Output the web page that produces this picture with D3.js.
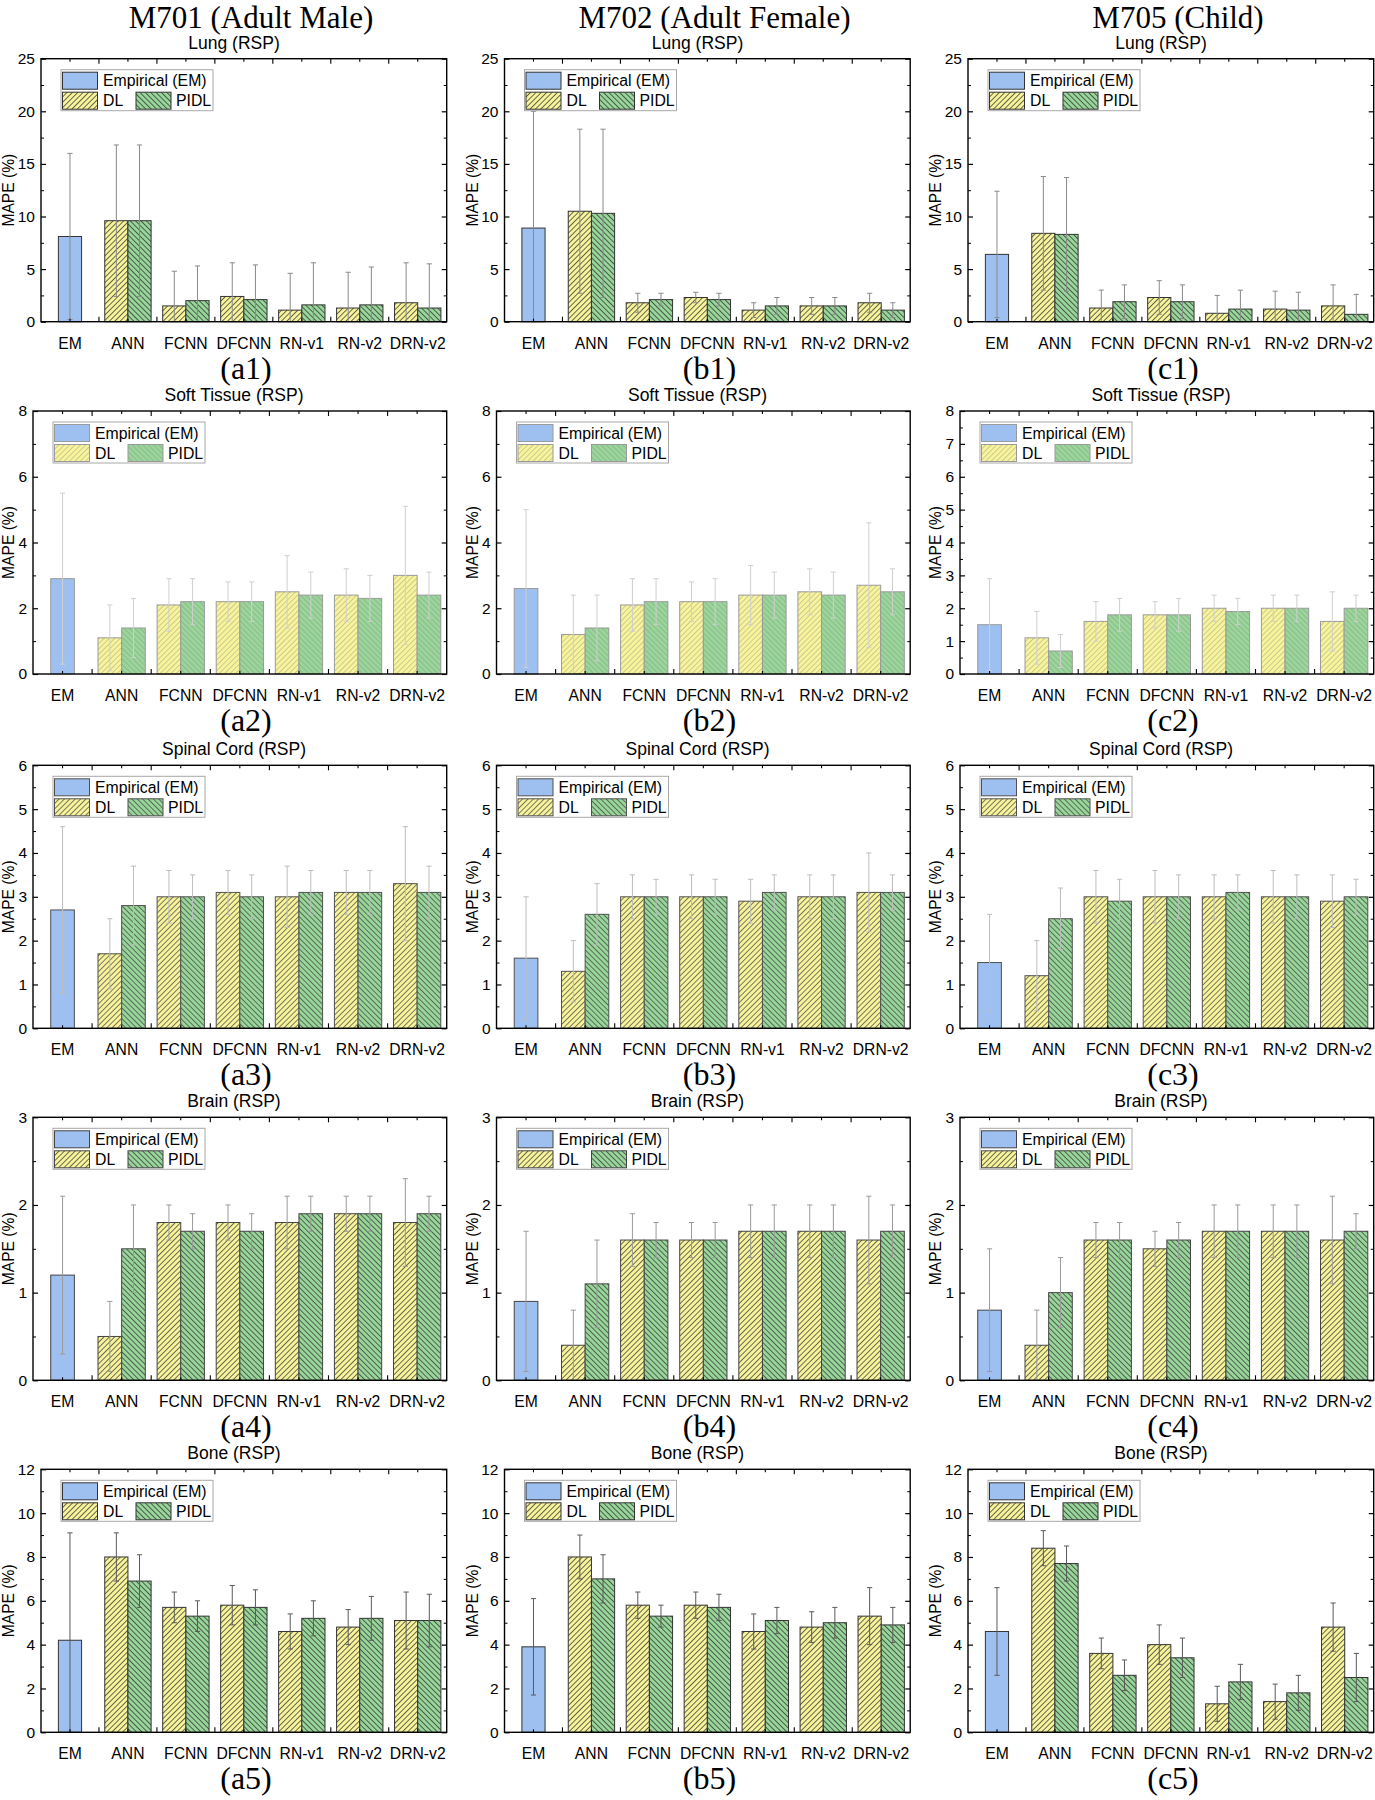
<!DOCTYPE html>
<html><head><meta charset="utf-8">
<script src="https://cdn.jsdelivr.net/npm/d3@7"></script>
<style>body{margin:0;background:#fff} svg{display:block}</style>
</head><body>
<svg id="chart" width="1375" height="1800"></svg>
<script>
// ---------------- DATA ----------------
const categories = ["EM", "ANN", "FCNN", "DFCNN", "RN-v1", "RN-v2", "DRN-v2"];
const phantoms = ["M701 (Adult Male)", "M702 (Adult Female)", "M705 (Child)"];
const tissues = ["Lung (RSP)", "Soft Tissue (RSP)", "Spinal Cord (RSP)", "Brain (RSP)", "Bone (RSP)"];
const seriesNames = ["Empirical (EM)", "DL", "PIDL"];
const yAxisTitle = "MAPE (%)";
const colLetters = ["a", "b", "c"];

// y tick labels per row (and per column where they differ)
const lungTicks = [0, 5, 10, 15, 20, 25];
const softTicksAB = [0, 2, 4, 6, 8];
const softTicksC = [0, 1, 2, 3, 4, 5, 6, 7, 8];
const spinalTicks = [0, 1, 2, 3, 4, 5, 6];
const brainTicks = [0, 1, 2, 3];
const boneTicks = [0, 2, 4, 6, 8, 10, 12];

// Lung  (rows: M701, M702, M705; DL/PIDL columns: ANN..DRN-v2)
const lungEM = [8.1, 8.9, 6.4];
const lungEMsd = [7.9, 11.1, 6.0];
const lungDL = [[9.6, 1.5, 2.4, 1.1, 1.3, 1.8], [10.5, 1.8, 2.3, 1.1, 1.5, 1.8], [8.4, 1.3, 2.3, 0.8, 1.2, 1.5]];
const lungDLsd = [[7.2, 3.3, 3.2, 3.5, 3.4, 3.8], [7.8, 0.9, 0.5, 0.7, 0.8, 0.9], [5.4, 1.7, 1.6, 1.7, 1.7, 2.0]];
const lungPIDL = [[9.6, 2.0, 2.1, 1.6, 1.6, 1.3], [10.3, 2.1, 2.1, 1.5, 1.5, 1.1], [8.3, 1.9, 1.9, 1.2, 1.1, 0.7]];
const lungPIDLsd = [[7.2, 3.3, 3.3, 4.0, 3.6, 4.2], [8.0, 0.6, 0.6, 0.8, 0.8, 0.7], [5.4, 1.6, 1.6, 1.8, 1.7, 1.9]];

// Soft tissue
const softEM = [2.9, 2.6, 1.5];
const softEMsd = [2.6, 2.4, 1.4];
const softDL = [[1.1, 2.1, 2.2, 2.5, 2.4, 3.0], [1.2, 2.1, 2.2, 2.4, 2.5, 2.7], [1.1, 1.6, 1.8, 2.0, 2.0, 1.6]];
const softDLsd = [[1.0, 0.8, 0.6, 1.1, 0.8, 2.1], [1.2, 0.8, 0.6, 0.9, 0.7, 1.9], [0.8, 0.6, 0.4, 0.4, 0.4, 0.9]];
const softPIDL = [[1.4, 2.2, 2.2, 2.4, 2.3, 2.4], [1.4, 2.2, 2.2, 2.4, 2.4, 2.5], [0.7, 1.8, 1.8, 1.9, 2.0, 2.0]];
const softPIDLsd = [[0.9, 0.7, 0.6, 0.7, 0.7, 0.7], [1.0, 0.7, 0.7, 0.7, 0.7, 0.7], [0.5, 0.5, 0.5, 0.4, 0.4, 0.4]];

// Spinal cord
const spinalEM = [2.7, 1.6, 1.5];
const spinalEMsd = [1.9, 1.4, 1.1];
const spinalDL = [[1.7, 3.0, 3.1, 3.0, 3.1, 3.3], [1.3, 3.0, 3.0, 2.9, 3.0, 3.1], [1.2, 3.0, 3.0, 3.0, 3.0, 2.9]];
const spinalDLsd = [[0.8, 0.6, 0.5, 0.7, 0.5, 1.3], [0.7, 0.5, 0.5, 0.5, 0.5, 0.9], [0.8, 0.6, 0.6, 0.5, 0.6, 0.6]];
const spinalPIDL = [[2.8, 3.0, 3.0, 3.1, 3.1, 3.1], [2.6, 3.0, 3.0, 3.1, 3.0, 3.1], [2.5, 2.9, 3.0, 3.1, 3.0, 3.0]];
const spinalPIDLsd = [[0.9, 0.5, 0.5, 0.5, 0.5, 0.6], [0.7, 0.4, 0.4, 0.4, 0.5, 0.4], [0.7, 0.5, 0.5, 0.4, 0.5, 0.4]];

// Brain
const brainEM = [1.2, 0.9, 0.8];
const brainEMsd = [0.9, 0.8, 0.7];
const brainDL = [[0.5, 1.8, 1.8, 1.8, 1.9, 1.8], [0.4, 1.6, 1.6, 1.7, 1.7, 1.6], [0.4, 1.6, 1.5, 1.7, 1.7, 1.6]];
const brainDLsd = [[0.4, 0.2, 0.2, 0.3, 0.2, 0.5], [0.4, 0.3, 0.2, 0.3, 0.3, 0.5], [0.4, 0.2, 0.2, 0.3, 0.3, 0.5]];
const brainPIDL = [[1.5, 1.7, 1.7, 1.9, 1.9, 1.9], [1.1, 1.6, 1.6, 1.7, 1.7, 1.7], [1.0, 1.6, 1.6, 1.7, 1.7, 1.7]];
const brainPIDLsd = [[0.5, 0.2, 0.2, 0.2, 0.2, 0.2], [0.5, 0.2, 0.2, 0.3, 0.3, 0.3], [0.4, 0.2, 0.2, 0.3, 0.3, 0.2]];

// Bone
const boneEM = [4.2, 3.9, 4.6];
const boneEMsd = [4.9, 2.2, 2.0];
const boneDL = [[8.0, 5.7, 5.8, 4.6, 4.8, 5.1], [8.0, 5.8, 5.8, 4.6, 4.8, 5.3], [8.4, 3.6, 4.0, 1.3, 1.4, 4.8]];
const boneDLsd = [[1.1, 0.7, 0.9, 0.8, 0.8, 1.3], [1.0, 0.6, 0.6, 0.8, 0.7, 1.3], [0.8, 0.7, 0.9, 0.8, 0.8, 1.1]];
const bonePIDL = [[6.9, 5.3, 5.7, 5.2, 5.2, 5.1], [7.0, 5.3, 5.7, 5.1, 5.0, 4.9], [7.7, 2.6, 3.4, 2.3, 1.8, 2.5]];
const bonePIDLsd = [[1.2, 0.7, 0.8, 0.8, 1.0, 1.2], [1.1, 0.5, 0.6, 0.6, 0.7, 0.8], [0.8, 0.7, 0.9, 0.8, 0.8, 1.1]];

// ---------------- ASSEMBLY ----------------
const rowsData = [
  {em: lungEM, emsd: lungEMsd, dl: lungDL, dlsd: lungDLsd, pidl: lungPIDL, pidlsd: lungPIDLsd, ticks: [lungTicks, lungTicks, lungTicks], minor: [2.5, 2.5, 2.5]},
  {em: softEM, emsd: softEMsd, dl: softDL, dlsd: softDLsd, pidl: softPIDL, pidlsd: softPIDLsd, ticks: [softTicksAB, softTicksAB, softTicksC], minor: [1, 1, 0.5]},
  {em: spinalEM, emsd: spinalEMsd, dl: spinalDL, dlsd: spinalDLsd, pidl: spinalPIDL, pidlsd: spinalPIDLsd, ticks: [spinalTicks, spinalTicks, spinalTicks], minor: [0.5, 0.5, 0.5]},
  {em: brainEM, emsd: brainEMsd, dl: brainDL, dlsd: brainDLsd, pidl: brainPIDL, pidlsd: brainPIDLsd, ticks: [brainTicks, brainTicks, brainTicks], minor: [0.5, 0.5, 0.5]},
  {em: boneEM, emsd: boneEMsd, dl: boneDL, dlsd: boneDLsd, pidl: bonePIDL, pidlsd: bonePIDLsd, ticks: [boneTicks, boneTicks, boneTicks], minor: [1, 1, 1]}
];

// ---------------- LAYOUT / STYLE ----------------
const SANS = "'Liberation Sans', Arial, sans-serif";
const SERIF = "'Liberation Serif', 'Times New Roman', serif";
const colOffset = [0, 463.5, 927];
const rowTop = [58.7, 411, 765.3, 1117.3, 1469.3];
const plotH = 263;
const fillEM = "#9ec0f0", fillDL = "#f8f49c", fillPIDL = "#98d69a";
const rowStyle = [
  {stroke: "#333", hatch: "#2a2a2a", hop: 0.8, err: "#8a8a8a"},
  {stroke: "#9a9a9a", hatch: "#8a8a7a", hop: 0.45, err: "#cfcfcf"},
  {stroke: "#505050", hatch: "#3a3a3a", hop: 0.75, err: "#bdbdbd"},
  {stroke: "#444", hatch: "#333", hop: 0.8, err: "#9a9a9a"},
  {stroke: "#333", hatch: "#2a2a2a", hop: 0.8, err: "#5a5a5a"}
];

const svg = d3.select("#chart");
const defs = svg.append("defs");
rowStyle.forEach((st, r) => {
  [["dl", fillDL, 45], ["pidl", fillPIDL, -45]].forEach(([k, fill, ang]) => {
    const p = defs.append("pattern").attr("id", `${k}${r}`)
      .attr("patternUnits", "userSpaceOnUse").attr("width", 3.8).attr("height", 3.8)
      .attr("patternTransform", `rotate(${ang})`);
    p.append("rect").attr("width", 3.8).attr("height", 3.8).attr("fill", fill);
    p.append("line").attr("x1", 0.5).attr("y1", 0).attr("x2", 0.5).attr("y2", 3.8)
      .attr("stroke", st.hatch).attr("stroke-opacity", st.hop).attr("stroke-width", 0.9);
  });
});

// column headers
phantoms.forEach((p, c) => {
  svg.append("text").attr("x", colOffset[c] + 251).attr("y", 28)
    .attr("text-anchor", "middle").attr("font-family", SERIF).attr("font-size", 31)
    .text(p);
});

rowsData.forEach((rd, r) => {
  const st = rowStyle[r];
  for (let c = 0; c < 3; c++) {
    const O = colOffset[c];
    const ticks = rd.ticks[c];
    const yMax = ticks[ticks.length - 1];
    const twoDigit = yMax >= 10;
    const T = rowTop[r], B = T + plotH;
    const L = O + (twoDigit ? 41 : 33), R = O + 446.7;
    const g = svg.append("g");

    const x = d3.scaleBand().domain(categories).range([L, R]).padding(0);
    const y = d3.scaleLinear().domain([0, yMax]).range([B, T]);
    const bw = x.bandwidth() * 0.4;
    const cx = k => x(k) + x.bandwidth() / 2;

    // bars
    const bars = [];
    bars.push({cat: "EM", v: rd.em[c], sd: rd.emsd[c], x0: cx("EM") - bw / 2, fill: fillEM});
    categories.slice(1).forEach((k, i) => {
      bars.push({cat: k, v: rd.dl[c][i], sd: rd.dlsd[c][i], x0: cx(k) - bw, fill: `url(#dl${r})`});
      bars.push({cat: k, v: rd.pidl[c][i], sd: rd.pidlsd[c][i], x0: cx(k), fill: `url(#pidl${r})`});
    });
    g.selectAll("rect.bar").data(bars).join("rect").attr("class", "bar")
      .attr("x", d => d.x0).attr("width", bw)
      .attr("y", d => y(d.v)).attr("height", d => B - y(d.v))
      .attr("fill", d => d.fill).attr("stroke", st.stroke).attr("stroke-width", 1);

    // error bars
    const eg = g.append("g").attr("stroke", st.err).attr("stroke-width", 1).attr("fill", "none");
    bars.forEach(d => {
      const xc = d.x0 + bw / 2;
      const lo = y(Math.max(0, d.v - d.sd)), hi = y(Math.min(yMax, d.v + d.sd));
      eg.append("line").attr("x1", xc).attr("x2", xc).attr("y1", lo).attr("y2", hi);
      eg.append("line").attr("x1", xc - 2.6).attr("x2", xc + 2.6).attr("y1", hi).attr("y2", hi);
      eg.append("line").attr("x1", xc - 2.6).attr("x2", xc + 2.6).attr("y1", lo).attr("y2", lo);
    });

    // axes
    const minorVals = d3.range(0, yMax + 1e-9, rd.minor[c]).filter(v => !ticks.some(t => Math.abs(t - v) < 1e-9));
    const yl = g.append("g").attr("transform", `translate(${L},0)`)
      .call(d3.axisLeft(y).tickValues(ticks).tickSize(-5).tickPadding(6).tickFormat(d3.format("d")));
    yl.select(".domain").remove();
    yl.selectAll("text").attr("font-family", SANS).attr("font-size", 15.5).attr("fill", "#000");
    yl.selectAll("line").attr("stroke", "#000").attr("stroke-width", 1.2);
    const ylm = g.append("g").attr("transform", `translate(${L},0)`)
      .call(d3.axisLeft(y).tickValues(minorVals).tickSize(-3).tickFormat(""));
    ylm.select(".domain").remove();
    ylm.selectAll("line").attr("stroke", "#000");
    const yr = g.append("g").attr("transform", `translate(${R},0)`)
      .call(d3.axisRight(y).tickValues(ticks).tickSize(-5).tickFormat(""));
    yr.select(".domain").remove();
    yr.selectAll("line").attr("stroke", "#000").attr("stroke-width", 1.2);
    const yrm = g.append("g").attr("transform", `translate(${R},0)`)
      .call(d3.axisRight(y).tickValues(minorVals).tickSize(-3).tickFormat(""));
    yrm.select(".domain").remove();
    yrm.selectAll("line").attr("stroke", "#000");

    const xb = g.append("g").attr("transform", `translate(0,${B})`)
      .call(d3.axisBottom(x).tickSize(0).tickPadding(16));
    xb.select(".domain").remove();
    xb.selectAll("text").attr("font-family", SANS).attr("font-size", 15.7).attr("fill", "#000");

    // category-axis ticks (top and bottom, inside)
    const tg = g.append("g").attr("stroke", "#000").attr("stroke-width", 1.1);
    categories.forEach((k, i) => {
      const xc = cx(k);
      tg.append("line").attr("x1", xc).attr("x2", xc).attr("y1", T).attr("y2", T + 3);
      tg.append("line").attr("x1", xc).attr("x2", xc).attr("y1", B).attr("y2", B - 3);
      if (i > 0) {
        const xe = x(k);
        tg.append("line").attr("x1", xe).attr("x2", xe).attr("y1", T).attr("y2", T + 5);
        tg.append("line").attr("x1", xe).attr("x2", xe).attr("y1", B).attr("y2", B - 5);
      }
    });

    // frame
    g.append("rect").attr("x", L).attr("y", T).attr("width", R - L).attr("height", B - T)
      .attr("fill", "none").attr("stroke", "#000").attr("stroke-width", 1.4);

    // legend
    const lg = g.append("g").attr("transform", `translate(${L},${T})`);
    lg.append("rect").attr("x", 20).attr("y", 11).attr("width", 152).attr("height", 41)
      .attr("fill", "#fff").attr("stroke", "#a8a8a8").attr("stroke-width", 1);
    const sw = [[21.5, 13.5, fillEM], [21.5, 33.5, `url(#dl${r})`], [95, 33.5, `url(#pidl${r})`]];
    sw.forEach(([sx, sy, f]) => {
      lg.append("rect").attr("x", sx).attr("y", sy).attr("width", 35).attr("height", 17)
        .attr("fill", f).attr("stroke", st.stroke).attr("stroke-width", 1);
    });
    const lt = [[62, 27.5, seriesNames[0]], [62, 47.5, seriesNames[1]], [135, 47.5, seriesNames[2]]];
    lt.forEach(([tx, ty, s]) => {
      lg.append("text").attr("x", tx).attr("y", ty).attr("font-family", SANS).attr("font-size", 15.8).text(s);
    });

    // titles
    g.append("text").attr("x", O + 234).attr("y", T - 10).attr("text-anchor", "middle")
      .attr("font-family", SANS).attr("font-size", 17.5).text(tissues[r]);
    g.append("text").attr("transform", `translate(${O + 14},${(T + B) / 2}) rotate(-90)`)
      .attr("text-anchor", "middle").attr("font-family", SANS).attr("font-size", 15.6)
      .text(yAxisTitle);
    g.append("text").attr("x", O + 246).attr("y", B + 57).attr("text-anchor", "middle")
      .attr("font-family", SERIF).attr("font-size", 32).text(`(${colLetters[c]}${r + 1})`);
  }
});
</script>
</body></html>
